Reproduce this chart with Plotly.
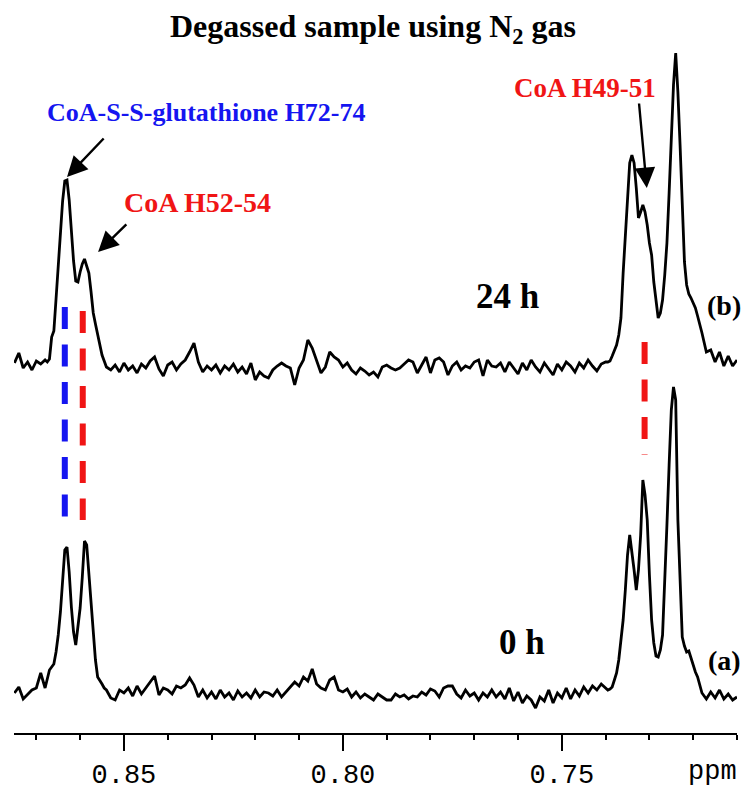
import plotly.graph_objects as go

# ---------------- data (chemical shift grid, ppm) ----------------
ppm = [
    0.8750, 0.8740, 0.8730, 0.8720, 0.8710, 0.8700, 0.8690, 0.8680,
    0.8675, 0.8670, 0.8665, 0.8660, 0.8655, 0.8650, 0.8645, 0.8640, 0.8635, 0.8630,
    0.8625, 0.8620, 0.8615, 0.8610, 0.8605, 0.8600, 0.8595, 0.8590, 0.8585, 0.8580,
    0.8575, 0.8570, 0.8565, 0.8560, 0.8555, 0.8550, 0.8545, 0.8540,
    0.853, 0.852, 0.851, 0.850, 0.849, 0.848, 0.847, 0.846, 0.845, 0.844,
    0.843, 0.842, 0.841, 0.840, 0.839, 0.838, 0.837, 0.836, 0.835, 0.834,
    0.833, 0.832, 0.831, 0.830, 0.829, 0.828, 0.827, 0.826, 0.825, 0.824,
    0.823, 0.822, 0.821,
    0.820, 0.819, 0.818, 0.817, 0.816, 0.815, 0.814, 0.813, 0.812, 0.811,
    0.810, 0.809, 0.808, 0.807, 0.806, 0.805, 0.804, 0.803, 0.802, 0.801,
    0.800, 0.799, 0.798, 0.797, 0.796, 0.795, 0.794, 0.793, 0.792, 0.791,
    0.790,
    0.789, 0.788, 0.787, 0.786, 0.785, 0.784, 0.783, 0.782, 0.781, 0.780,
    0.779, 0.778, 0.777, 0.776, 0.775, 0.774, 0.773, 0.772, 0.771, 0.770,
    0.769, 0.768, 0.767, 0.766, 0.765, 0.764, 0.763, 0.762, 0.761, 0.760,
    0.759, 0.758, 0.757, 0.756, 0.755, 0.754, 0.753, 0.752, 0.751, 0.750,
    0.749, 0.748, 0.747, 0.746, 0.745, 0.744, 0.743, 0.742, 0.741, 0.740,
    0.7395, 0.7390, 0.7385, 0.7380, 0.7375, 0.7370, 0.7365, 0.7360, 0.7355, 0.7350,
    0.7345, 0.7340, 0.7335, 0.7330, 0.7325, 0.7320, 0.7315, 0.7310, 0.7305, 0.7300,
    0.7295, 0.7290, 0.7285, 0.7280, 0.7275, 0.7270, 0.7265, 0.7260, 0.7255, 0.7250,
    0.7245, 0.7240, 0.7235, 0.7230, 0.7225, 0.7220, 0.7215, 0.7210, 0.7205, 0.7200,
    0.7195, 0.7190, 0.7185,
    0.718, 0.717, 0.716, 0.715, 0.714, 0.713, 0.712, 0.711, 0.710,
]

# spectrum (b): 24 h (arbitrary intensity units)
intensity_24h = [
    4, 14, -1, 5, -3, 6, 3, 7,
    5, 8, 30, 36, 68, 101, 133, 166, 186, 187,
    167, 136, 106, 86, 85, 95, 103, 108, 101, 94,
    75, 54, 43, 33, 21, 12, 6, 0,
    -3, 2, -5, 4, -3, 1, -6, 3, -1, 6,
    10, -2, -9, 2, 5, -3, 3, 7, 15, 24,
    5, -5, 1, -3, 2, -6, 1, -3, 3, -5,
    0, -7, 4,
    -13, -5, -9, -11, -3, 1, 4, 1, -1, -18,
    -1, 7, 27, 19, 7, -6, 0, 15, 10, 7,
    0, 4, -3, -7, -1, -4, -8, -5, -10, 0,
    2,
    -1, -3, -1, 3, 7, 5, -6, 2, 10, -6,
    7, 9, 5, -8, 1, 5, -3, 1, -1, 5,
    7, -9, 7, 1, 0, 4, -5, 5, -1, -7,
    4, -3, 7, 0, -5, 4, -2, -8, 3, -3,
    5, 1, -5, 4, -1, 7, 1, -4, 3, 5,
    5, 6, 11, 17, 22, 32, 49, 94, 129, 167,
    204, 212, 204, 179, 149, 155, 162, 155, 142, 124,
    112, 85, 64, 49, 54, 67, 92, 124, 174, 237,
    282, 314, 275, 222, 162, 105, 82, 73, 69, 64,
    59, 51, 43,
    34, 15, 17, 5, 15, 1, 11, 1, 7,
]

# spectrum (a): 0 h
intensity_0h = [
    -1, 5, -7, -2, 2, 4, 19, 4,
    12, 22, 25, 28, 40, 57, 80, 107, 142, 145,
    120, 85, 60, 47, 64, 84, 115, 151, 147, 117,
    87, 52, 32, 15, 12, 8, 4, 2,
    -6, -8, 2, -1, 4, -4, 6, -2, 4, 10,
    16, -3, 4, 2, -2, 6, 4, 7, 14, 7,
    -5, 2, -6, 0, -7, 2, -5, -1, -8, 1,
    -5, -1, -6,
    2, -5, 0, -1, -4, 2, -5, 0, 4, 10,
    6, 15, 11, 23, 8, 4, 2, 12, 15, 2,
    0, 3, -5, 0, -6, -2, -5, -8, -2, -5,
    -8,
    -8, -2, -5, -3, -7, -4, -5, 0, -3, 3,
    1, -5, 4, 6, 6, -2, -6, 2, -4, -1,
    -8, -1, -5, 2, -5, 0, -7, 4, -9, 0,
    -11, -4, -8, -16, -5, -9, 2, -11, -1, -6,
    4, -7, 2, -4, 5, -1, 6, 2, 8, 4,
    2, 3, 5, 12, 19, 32, 54, 72, 102, 137,
    157, 142, 122, 102, 122, 157, 212, 197, 172, 117,
    72, 49, 36, 35, 42, 57, 105, 167, 227, 282,
    305, 292, 172, 102, 55, 46, 40, 41, 34, 26,
    20, 15, 7,
    -1, -7, 0, -6, 2, -7, -2, -8, -5,
]

assert len(ppm) == len(intensity_24h) == len(intensity_0h)

tick_vals = [0.85, 0.80, 0.75]
tick_text = ["0.85", "0.80", "0.75"]

# assignment markers (ppm)
glutathione_ppm = 0.8635
coa52_ppm = 0.8594
coa49_ppm = 0.7311

# ---------------- layout constants (styling / stacking) ----------------
OFFSET_A = 41     # vertical stacking of spectrum (a)
OFFSET_B = 366    # vertical stacking of spectrum (b)
PAGE = 8          # default body margin of the html page
W, H = 750 - PAGE, 793 - 2 * PAGE
ML, MR, MT = 14 - PAGE, 13, 0
YMAX = 733 - PAGE
MB = H - YMAX

# arrows pointing at the assigned peaks: (tail ppm, tail y, tip ppm, tip y)
arrow_list = [
    (0.8543, 596, 0.8630, 556),
    (0.8491, 510, 0.8559, 481),
    (0.7324, 631, 0.7306, 545),
]

fig = go.Figure()
fig.add_trace(go.Scatter(x=ppm, y=[v + OFFSET_B for v in intensity_24h], mode="lines",
                         line=dict(color="black", width=2.8), hoverinfo="skip"))
fig.add_trace(go.Scatter(x=ppm, y=[v + OFFSET_A for v in intensity_0h], mode="lines",
                         line=dict(color="black", width=2.8), hoverinfo="skip"))

for x0, y0, x1, y1 in arrow_list:
    fig.add_annotation(x=x1, y=y1, xref="x", yref="y", ax=x0, ay=y0,
                       axref="x", ayref="y", text="", showarrow=True,
                       arrowhead=2, arrowsize=1.7, arrowwidth=2.4,
                       arrowcolor="black")

BLUE = "#1515f0"
RED = "#f01515"
DASH = "22px,15.5px"
# dashed assignment lines
fig.add_shape(type="line", x0=glutathione_ppm, x1=glutathione_ppm, y0=426, y1=216,
              line=dict(color=BLUE, width=6, dash=DASH))
fig.add_shape(type="line", x0=coa52_ppm, x1=coa52_ppm, y0=422, y1=213,
              line=dict(color=RED, width=6, dash=DASH))
fig.add_shape(type="line", x0=coa49_ppm, x1=coa49_ppm, y0=391, y1=278,
              line=dict(color=RED, width=6, dash=DASH))

def px(x):
    return (x - 14) / 723.0

def py(y):
    return (733 - y) / float(YMAX)

serif = "Liberation Serif"
anns = [
    dict(text="<b>Degassed sample using N<sub>2</sub> gas</b>", x=px(373), y=py(28),
         font=dict(family=serif, size=32, color="black")),
    dict(text="<b>CoA-S-S-glutathione H72-74</b>", x=px(206), y=py(112),
         font=dict(family=serif, size=26, color=BLUE)),
    dict(text="<b>CoA H52-54</b>", x=px(197), y=py(202),
         font=dict(family=serif, size=28, color=RED)),
    dict(text="<b>CoA H49-51</b>", x=px(585), y=py(88),
         font=dict(family=serif, size=27, color=RED)),
    dict(text="<b>24 h</b>", x=px(507), y=py(296),
         font=dict(family=serif, size=35, color="black")),
    dict(text="<b>0 h</b>", x=px(522), y=py(642),
         font=dict(family=serif, size=35, color="black")),
    dict(text="<b>(b)</b>", x=px(724), y=py(305),
         font=dict(family=serif, size=28, color="black")),
    dict(text="<b>(a)</b>", x=px(724), y=py(660),
         font=dict(family=serif, size=28, color="black")),
    dict(text="ppm", x=px(712), y=py(772),
         font=dict(family="Liberation Mono", size=27, color="black")),
]
for a in anns:
    fig.add_annotation(xref="paper", yref="paper", showarrow=False,
                       xanchor="center", yanchor="middle", **a)

fig.update_layout(
    width=W, height=H, margin=dict(l=ML, r=MR, t=MT, b=MB, autoexpand=False),
    paper_bgcolor="white", plot_bgcolor="white", showlegend=False,
    xaxis=dict(range=[0.8751, 0.7100], showgrid=False, zeroline=False,
               showline=True, linecolor="black", linewidth=2, automargin=False,
               ticks="outside", ticklen=16, tickwidth=2, tickcolor="black",
               tickvals=tick_vals, ticktext=tick_text,
               tickfont=dict(family="Liberation Mono", size=27, color="black"),
               minor=dict(ticks="outside", ticklen=5, tickwidth=2, tickcolor="black",
                          dtick=0.01, tick0=0.0)),
    yaxis=dict(range=[0, YMAX], visible=False, fixedrange=True),
)

fig.write_html("out.html")
